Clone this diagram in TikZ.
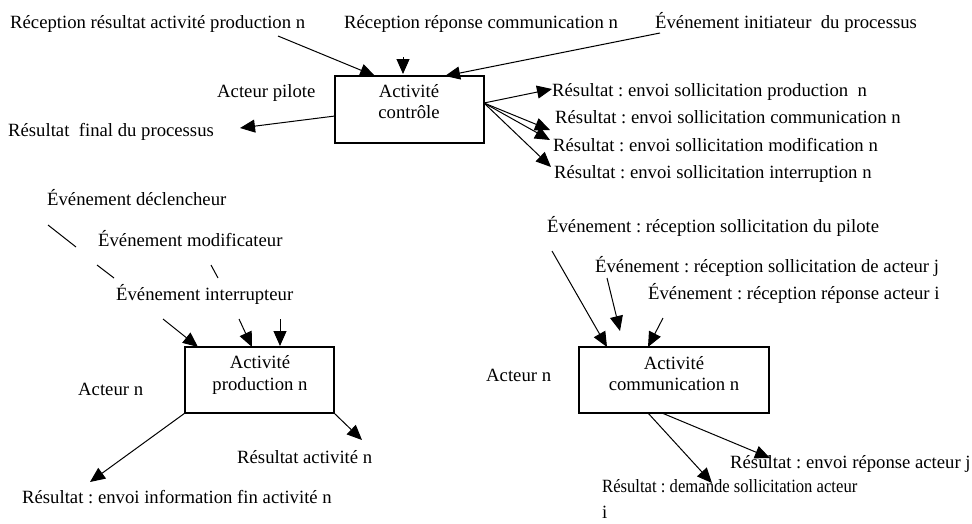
\documentclass[tikz,border=0pt]{standalone}
\usepackage{fontspec}
\setmainfont{Liberation Serif}
\usetikzlibrary{arrows.meta}
\begin{document}
\frenchspacing
\begin{tikzpicture}[x=1pt,y=-1pt,
  lbl/.style={inner sep=0pt, anchor=base west, font=\fontsize{18.7}{22}\selectfont\frenchspacing},
  boxtxt/.style={inner sep=0pt, anchor=base, font=\fontsize{18.7}{22}\selectfont\frenchspacing},
  box/.style={draw, line width=1.1pt, inner sep=0pt, outer sep=0pt},
  arr/.style={line width=1pt, -{Triangle[length=15pt,width=13pt]}},
  seg/.style={line width=1pt}]
\useasboundingbox (0,0) rectangle (972,523);
\fill[white] (0,0) rectangle (972,523);

% ---------- top: control activity ----------
\node[box, minimum width=149pt, minimum height=67pt] (ctrl) at (409.5,109.5) {};
\node[boxtxt] (ctrlA) at (409,97) {Activité};
\node[boxtxt] (ctrlB) at (409,118) {contrôle};

\node[lbl] (t1) at (10,28) {Réception résultat activité production n};
\node[lbl] (t2) at (344,28) {Réception réponse communication n};
\node[lbl] (t3) at (655,28) {Événement initiateur\ \ du processus};
\node[lbl] (pil) at (217,97) {Acteur pilote};
\node[lbl] (fin) at (8,136) {Résultat\ \ final du processus};
\node[lbl] (r1) at (552,96) {Résultat : envoi sollicitation production\ \ n};
\node[lbl] (r2) at (555,123) {Résultat : envoi sollicitation communication n};
\node[lbl] (r3) at (553,151) {Résultat : envoi sollicitation modification n};
\node[lbl] (r4) at (554,178) {Résultat : envoi sollicitation interruption n};

\coordinate (a1s) at (278,36);  \coordinate (a1e) at (375,76);
\coordinate (a2s) at (403,57);  \coordinate (a2e) at (403,74);
\coordinate (a3s) at (660,33);  \coordinate (a3e) at (445,76);
\coordinate (a4s) at (335,116); \coordinate (a4e) at (240,128);
\coordinate (ro) at (484,103);
\coordinate (r1e) at (552,89);
\coordinate (r2e) at (550,130);
\coordinate (r3e) at (550,140);
\coordinate (r4e) at (551,167);

\draw[arr] (a1s) -- (a1e);
\draw[arr] (a2s) -- (a2e);
\draw[arr] (a3s) -- (a3e);
\draw[arr] (a4s) -- (a4e);
\draw[arr] (ro) -- (r1e);
\draw[arr] (ro) -- (r2e);
\draw[arr] (ro) -- (r3e);
\draw[arr] (ro) -- (r4e);

% ---------- bottom left: production activity ----------
\node[box, minimum width=149pt, minimum height=66pt] (prod) at (259.5,380) {};
\node[boxtxt] (prodA) at (260,368) {Activité};
\node[boxtxt] (prodB) at (260,390) {production n};

\node[lbl] (ed) at (47,205) {Événement déclencheur};
\node[lbl] (em) at (98,246) {Événement modificateur};
\node[lbl] (ei) at (116,300) {Événement interrupteur};
\node[lbl] (acn1) at (78,395) {Acteur n};
\node[lbl] (ran) at (237,463) {Résultat activité n};
\node[lbl] (rif) at (22,503) {Résultat : envoi information fin activité n};

\coordinate (s1a) at (48,225);  \coordinate (s1b) at (76,247);
\coordinate (s2a) at (97,265);  \coordinate (s2b) at (114,278);
\coordinate (s3a) at (211,265); \coordinate (s3b) at (218,278);
\draw[seg] (s1a) -- (s1b);
\draw[seg] (s2a) -- (s2b);
\draw[seg] (s3a) -- (s3b);

\coordinate (p1s) at (163,319); \coordinate (p1e) at (198,347);
\coordinate (p2s) at (239,319); \coordinate (p2e) at (252,347);
\coordinate (p3s) at (280,319); \coordinate (p3e) at (280,346);
\draw[arr] (p1s) -- (p1e);
\draw[arr] (p2s) -- (p2e);
\draw[arr] (p3s) -- (p3e);
\coordinate (p4e) at (90,482);
\coordinate (p5e) at (362,440);
\draw[arr] (prod.south west) -- (p4e);
\draw[arr] (prod.south east) -- (p5e);

% ---------- bottom right: communication activity ----------
\node[box, minimum width=190pt, minimum height=66pt] (comm) at (674,380) {};
\node[boxtxt] (commA) at (674,369) {Activité};
\node[boxtxt] (commB) at (674,390) {communication n};

\node[lbl] (esp) at (547,232) {Événement : réception sollicitation du pilote};
\node[lbl] (esa) at (595,272) {Événement : réception sollicitation de acteur j};
\node[lbl] (era) at (648,299) {Événement : réception réponse acteur i};
\node[lbl] (acn2) at (486,381) {Acteur n};
\node[lbl] (rra) at (730,468) {Résultat : envoi réponse acteur j};
\node[lbl] (rds) at (602,492) {\scalebox{0.89}[1]{Résultat : demande sollicitation acteur}};
\node[lbl] (rdi) at (602,518) {i};

\coordinate (c1s) at (552,251); \coordinate (c1e) at (607,347);
\coordinate (c2s) at (607,278); \coordinate (c2e) at (620,331);
\coordinate (c3s) at (663,318); \coordinate (c3e) at (648,347);
\draw[arr] (c1s) -- (c1e);
\draw[arr] (c2s) -- (c2e);
\draw[arr] (c3s) -- (c3e);
\coordinate (c4s) at (648,413); \coordinate (c4e) at (712,483);
\coordinate (c5s) at (662,413); \coordinate (c5e) at (770,458);
\draw[arr] (c4s) -- (c4e);
\draw[arr] (c5s) -- (c5e);
\end{tikzpicture}
\end{document}
